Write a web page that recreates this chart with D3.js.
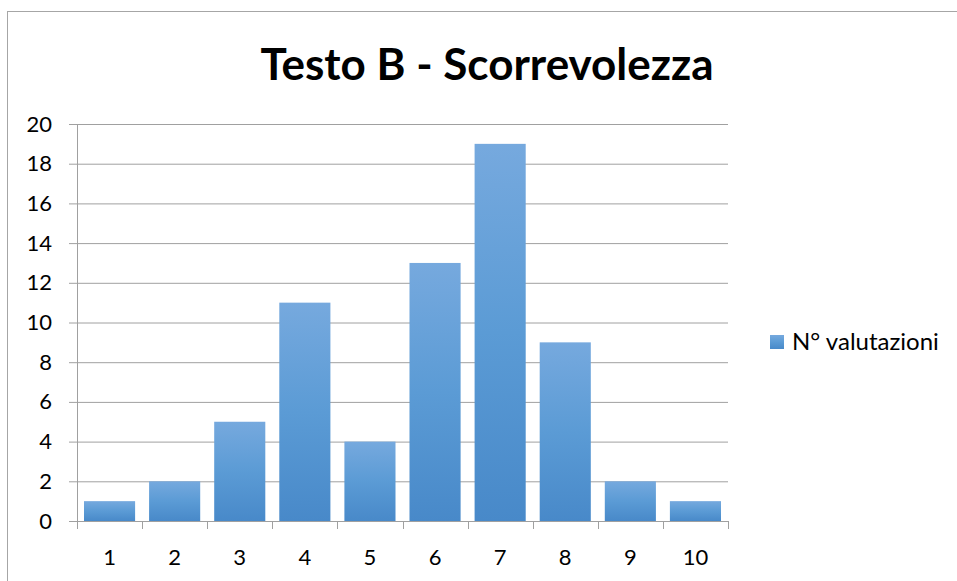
<!DOCTYPE html>
<html>
<head>
<meta charset="utf-8">
<script src="https://cdn.jsdelivr.net/npm/d3@7"></script>
<style>
  body { margin: 0; background: #fff; }
  text { font-family: Lato, "Open Sans", sans-serif; fill: #000; }
</style>
</head>
<body>
<div id="chart"></div>
<script>
var categories = ["1", "2", "3", "4", "5", "6", "7", "8", "9", "10"];
var values = [1, 2, 5, 11, 4, 13, 19, 9, 2, 1];
var yTicks = [0, 2, 4, 6, 8, 10, 12, 14, 16, 18, 20];
var seriesName = "N° valutazioni";
var title = "Testo B - Scorrevolezza";

var width = 957, height = 581;
var plot = { left: 77, right: 728, top: 124, bottom: 521 };

var svg = d3.select("#chart").append("svg")
  .attr("width", width)
  .attr("height", height);

// outer chart frame
svg.append("rect")
  .attr("x", 7.5).attr("y", 11.5)
  .attr("width", 980).attr("height", 600)
  .attr("fill", "#fff")
  .attr("stroke", "#a6a6a6");

var defs = svg.append("defs");
var grad = defs.append("linearGradient")
  .attr("id", "barGrad")
  .attr("x1", 0).attr("y1", 0).attr("x2", 0).attr("y2", 1);
grad.append("stop").attr("offset", "0%").attr("stop-color", "#76a9de");
grad.append("stop").attr("offset", "50%").attr("stop-color", "#5b9bd5");
grad.append("stop").attr("offset", "100%").attr("stop-color", "#4889c9");

var xScale = d3.scaleBand()
  .domain(categories)
  .range([plot.left, plot.right])
  .paddingInner(0.215)
  .paddingOuter(0.1075);

var yScale = d3.scaleLinear()
  .domain([0, 20])
  .range([plot.bottom, plot.top]);

// gridlines + y axis
var yAxis = d3.axisLeft(yScale)
  .tickValues(yTicks)
  .tickSize(-(plot.right - plot.left))
  .tickSizeOuter(0);

var gY = svg.append("g")
  .attr("transform", "translate(" + plot.left + ",0)")
  .call(yAxis);
gY.select(".domain").remove();
gY.selectAll(".tick line")
  .attr("x1", -8)
  .attr("stroke", "#a0a0a0");
gY.selectAll(".tick text")
  .style("font-size", "22px")
  .attr("x", -25);

// bars
svg.append("g")
  .selectAll("rect")
  .data(values)
  .enter().append("rect")
  .attr("x", function (d, i) { return xScale(categories[i]); })
  .attr("y", function (d) { return yScale(d); })
  .attr("width", xScale.bandwidth())
  .attr("height", function (d) { return yScale(0) - yScale(d); })
  .attr("fill", "url(#barGrad)");

// y axis line
svg.append("line")
  .attr("x1", plot.left + 0.5).attr("x2", plot.left + 0.5)
  .attr("y1", plot.top).attr("y2", plot.bottom + 8)
  .attr("stroke", "#a0a0a0");

// x axis
svg.append("line")
  .attr("x1", plot.left).attr("x2", plot.right)
  .attr("y1", plot.bottom + 0.5).attr("y2", plot.bottom + 0.5)
  .attr("stroke", "#a0a0a0");

var boundaries = d3.range(categories.length + 1).map(function (i) {
  return plot.left + i * (plot.right - plot.left) / categories.length;
});
svg.append("g").selectAll("line")
  .data(boundaries)
  .enter().append("line")
  .attr("x1", function (d) { return Math.round(d) + 0.5; })
  .attr("x2", function (d) { return Math.round(d) + 0.5; })
  .attr("y1", plot.bottom).attr("y2", plot.bottom + 8)
  .attr("stroke", "#a0a0a0");

svg.append("g").selectAll("text")
  .data(categories)
  .enter().append("text")
  .attr("x", function (d) { return xScale(d) + xScale.bandwidth() / 2; })
  .attr("y", 565)
  .attr("text-anchor", "middle")
  .style("font-size", "22px")
  .text(function (d) { return d; });

// title
svg.append("text")
  .attr("x", 487)
  .attr("y", 80)
  .attr("text-anchor", "middle")
  .style("font-size", "44px")
  .style("font-weight", "bold")
  .text(title);

// legend
svg.append("rect")
  .attr("x", 770).attr("y", 335)
  .attr("width", 14).attr("height", 14)
  .attr("fill", "url(#barGrad)");
svg.append("text")
  .attr("x", 792)
  .attr("y", 350)
  .style("font-size", "24px")
  .text(seriesName);
</script>
</body>
</html>
